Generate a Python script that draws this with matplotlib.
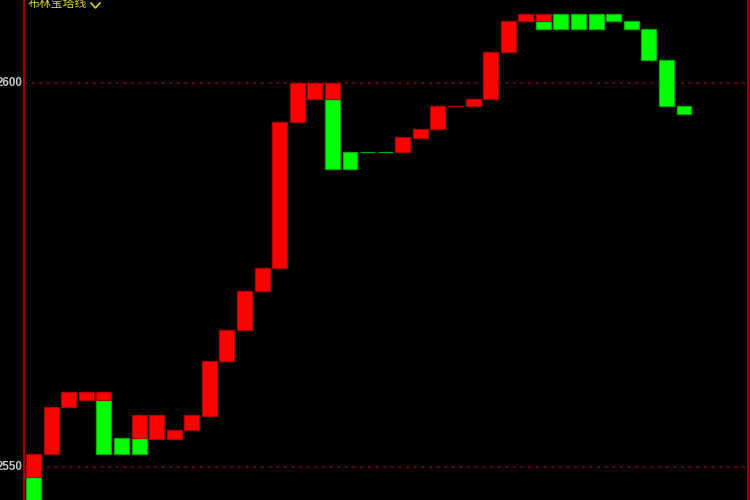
import matplotlib
matplotlib.use('Agg')
import matplotlib.pyplot as plt
from matplotlib.lines import Line2D
import numpy as np

plt.rcParams['font.family'] = ['Noto Sans CJK SC', 'DejaVu Sans']

# tower line segments per bar (None = no segment of that colour)
red_lo = [2548.7, 2551.7, 2557.8, 2558.7, 2558.7, None, 2553.8, 2553.7, 2553.7, 2554.8,
          2556.7, 2563.8, 2567.8, 2572.9, 2575.9, 2594.9, 2597.9, 2597.9, None, None,
          None, 2591.0, 2592.9, 2594.0, 2597.0, 2597.0, 2597.9, 2604.0, 2608.1, 2608.1,
          None, None, None, None, None, None, None, None]
red_hi = [2551.7, 2557.8, 2559.8, 2559.8, 2559.8, None, 2556.8, 2556.8, 2554.8, 2556.8,
          2563.8, 2567.8, 2572.9, 2575.9, 2594.9, 2600.0, 2600.0, 2600.0, None, None,
          None, 2593.0, 2594.0, 2597.0, 2597.0, 2597.9, 2604.0, 2608.1, 2609.0, 2609.0,
          None, None, None, None, None, None, None, None]
green_lo = [2544.0, None, None, None, 2551.7, 2551.7, 2551.7, None, None, None,
            None, None, None, None, None, None, None, 2588.8, 2588.8, 2591.0,
            2591.0, 2591.0, None, None, None, None, None, None, None, 2607.0,
            2607.0, 2607.0, 2607.0, 2608.1, 2607.0, 2603.0, 2597.0, 2596.0]
green_hi = [2548.7, None, None, None, 2558.7, 2553.8, 2553.8, None, None, None,
            None, None, None, None, None, None, None, 2597.9, 2591.0, 2591.0,
            2591.0, 2591.0, None, None, None, None, None, None, None, 2608.1,
            2609.0, 2609.0, 2609.0, 2609.0, 2608.1, 2607.0, 2603.0, 2597.0]

price_ticks = [2550, 2600]
title = '布林宝塔线'

fig = plt.figure(figsize=(7.5, 5), dpi=100, facecolor='black')
ax = fig.add_axes([24.5 / 750, 0, (748 - 24.5) / 750, 1])
ax.set_facecolor('black')

x = np.arange(len(red_lo))
w = 0.85
for i in x:
    if green_lo[i] is not None:
        ax.bar(i, green_hi[i] - green_lo[i], bottom=green_lo[i], width=w,
               color='#00ff00', edgecolor='#00b000', linewidth=0.9, zorder=3)
    if red_lo[i] is not None:
        ax.bar(i, red_hi[i] - red_lo[i], bottom=red_lo[i], width=w,
               color='#ff0000', edgecolor='#b00000', linewidth=0.9, zorder=3)

for p in price_ticks:
    ax.axhline(p, color='#8b0000', linestyle=(0, (2, 3)), linewidth=1.1, zorder=1)

ax.set_xlim(-0.515, 40.64)
ax.set_ylim(2545.7, 2610.81)
ax.set_xticks([])
ax.set_yticks([])
for s in ['top', 'bottom']:
    ax.spines[s].set_visible(False)
for s in ['left', 'right']:
    ax.spines[s].set_color('#c00000')
    ax.spines[s].set_linewidth(1.2)

for p in price_ticks:
    ax.annotate(str(p), xy=(0, p), xycoords=ax.get_yaxis_transform(),
                xytext=(-1.5, 0), textcoords='offset points',
                ha='right', va='center', color='#c8c8c8', fontsize=8.3,
                family='Liberation Sans', fontweight='bold', annotation_clip=False)

fig.text(28 / 750, 1 - 3 / 500, title, color='#d2d23c', fontsize=8.6,
         ha='left', va='center')
fig.add_artist(Line2D([91 / 750, 95.5 / 750, 100 / 750],
                      [1 - 3 / 500, 1 - 8 / 500, 1 - 3 / 500],
                      transform=fig.transFigure, color='#d2d23c', linewidth=1.2))

plt.savefig('out.png', facecolor='black')
